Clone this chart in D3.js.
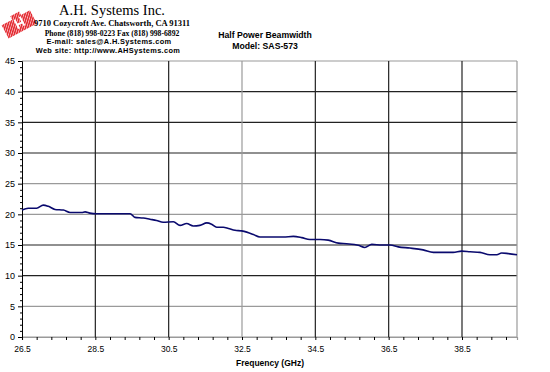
<!DOCTYPE html>
<html>
<head>
<meta charset="utf-8">
<script src="https://cdn.jsdelivr.net/npm/d3@7"></script>
<style>
  body { margin: 0; background: #fff; }
  svg { display: block; font-family: "Liberation Sans", Arial, sans-serif; }
</style>
</head>
<body>
<div id="chart"></div>
<script>
// frequency (GHz) and beamwidth (deg)
const freqs = [26.5, 26.67, 26.9, 27.08, 27.22, 27.4, 27.63, 27.81, 28.13, 28.22, 28.35, 28.54,
  29.45, 29.58, 29.81, 29.99, 30.17, 30.35, 30.63, 30.81, 30.99, 31.17, 31.35, 31.54, 31.67,
  31.81, 31.99, 32.13, 32.31, 32.49, 32.63, 32.81, 32.99, 33.35, 33.63, 33.9, 34.13, 34.35,
  34.63, 34.85, 35.13, 35.35, 35.67, 35.85, 36.04, 36.31, 36.54, 36.76, 37.08, 37.44, 37.72,
  38.26, 38.49, 38.72, 38.99, 39.26, 39.45, 39.58, 39.76, 40.0];
const beamwidth = [20.7, 21.0, 21.0, 21.5, 21.3, 20.8, 20.7, 20.3, 20.3, 20.4, 20.2, 20.1,
  20.1, 19.5, 19.4, 19.2, 19.0, 18.7, 18.8, 18.2, 18.5, 18.1, 18.2, 18.6, 18.4,
  17.9, 17.9, 17.7, 17.4, 17.3, 17.1, 16.7, 16.3, 16.3, 16.3, 16.4, 16.2, 15.9,
  15.9, 15.8, 15.3, 15.2, 14.95, 14.6, 15.1, 15.0, 15.0, 14.7, 14.5, 14.2, 13.8,
  13.8, 14.0, 13.9, 13.8, 13.4, 13.4, 13.7, 13.6, 13.4];

const xTicks = [26.5, 28.5, 30.5, 32.5, 34.5, 36.5, 38.5];
const yTicks = [0, 5, 10, 15, 20, 25, 30, 35, 40, 45];
const headerLines = [
  "A.H. Systems Inc.",
  "9710 Cozycroft Ave. Chatsworth, CA 91311",
  "Phone (818) 998-0223 Fax (818) 998-6892",
  "E-mail:  sales@A.H.Systems.com",
  "Web site:  http://www.AHSystems.com"
];
const titleLines = ["Half Power Beamwidth", "Model: SAS-573"];

const width = 550, height = 372;
const margin = { top: 61, right: 33, bottom: 35, left: 22 };

const svg = d3.select("#chart").append("svg")
  .attr("width", width).attr("height", height);

const x = d3.scaleLinear().domain([26.5, 40]).range([margin.left, width - margin.right]);
const y = d3.scaleLinear().domain([0, 45]).range([height - margin.bottom, margin.top]);

// logo: red striped block
const defs = svg.append("defs");
const pat = defs.append("pattern").attr("id", "stripes")
  .attr("width", 2.2).attr("height", 2.2)
  .attr("patternUnits", "userSpaceOnUse")
  .attr("patternTransform", "rotate(45)");
pat.append("rect").attr("width", 2.2).attr("height", 2.2).attr("fill", "#f7b9bb");
pat.append("rect").attr("width", 1.4).attr("height", 2.2).attr("fill", "#e3262e");

const logo = svg.append("g").attr("transform", "translate(19,24) rotate(-28)");
logo.append("path")
  .attr("d", "M-16,-7 L-4,-7 L-4,-11 L6,-11 L6,-7 L16,-7 L16,8 L-16,8 Z")
  .attr("fill", "url(#stripes)");
logo.append("path")
  .attr("d", "M-3,-6 L-1,-6 L-1,-1 L3,-1 L3,-6 L5,-6 L5,4 L3,4 L3,1 L-1,1 L-1,4 L-3,4 Z")
  .attr("fill", "#fff");

// company header
const serif = "Liberation Serif, Times New Roman, serif";
const header = svg.append("g").attr("text-anchor", "middle");
header.append("text").attr("x", 112).attr("y", 15)
  .attr("font-family", serif).attr("font-size", 14.5).text(headerLines[0]);
header.append("text").attr("x", 112).attr("y", 26)
  .attr("font-family", serif).attr("font-weight", "bold").attr("font-size", 8.5)
  .text(headerLines[1]);
header.append("text").attr("x", 112).attr("y", 35.5)
  .attr("font-family", serif).attr("font-weight", "bold").attr("font-size", 7.7)
  .text(headerLines[2]);
header.append("text").attr("x", 109).attr("y", 44)
  .attr("font-weight", "bold").attr("font-size", 7.4).attr("letter-spacing", 0.35)
  .text(headerLines[3]);
header.append("text").attr("x", 108).attr("y", 53)
  .attr("font-weight", "bold").attr("font-size", 7.4).attr("letter-spacing", 0.35)
  .text(headerLines[4]);

// chart title
svg.append("g").attr("text-anchor", "middle")
  .selectAll("text").data(titleLines).enter().append("text")
  .attr("x", 265).attr("y", (d, i) => 38 + i * 11)
  .attr("font-weight", "bold").attr("font-size", 8.7)
  .text(d => d);

// gridlines (some render lighter in the original)
const lightY = [45, 25, 20, 5, 0];
svg.append("g").selectAll("line").data(yTicks).enter().append("line")
  .attr("x1", x(26.5)).attr("x2", x(40))
  .attr("y1", d => y(d)).attr("y2", d => y(d))
  .attr("stroke", d => lightY.includes(d) ? "#9a9a9a" : "#222")
  .attr("stroke-width", 1.2);

svg.append("g").selectAll("line").data(xTicks.slice(1)).enter().append("line")
  .attr("x1", d => x(d)).attr("x2", d => x(d))
  .attr("y1", y(0)).attr("y2", y(45))
  .attr("stroke", d => d === 32.5 ? "#9a9a9a" : "#222")
  .attr("stroke-width", 1.2);

// right border
svg.append("line")
  .attr("x1", x(40)).attr("x2", x(40)).attr("y1", y(0)).attr("y2", y(45))
  .attr("stroke", "#9a9a9a").attr("stroke-width", 1.2);

// y axis with minor ticks
const yAxis = svg.append("g").attr("transform", `translate(${x(26.5)},0)`);
yAxis.call(d3.axisLeft(y).tickValues(d3.range(0, 46, 1)).tickSize(2).tickFormat(""));
yAxis.call(g => g.selectAll(".tick").filter(d => d % 5 === 0).select("line").attr("x2", -4));
yAxis.selectAll(".domain").attr("stroke", "#000");
svg.append("g").attr("transform", `translate(${x(26.5) - 5},0)`)
  .call(d3.axisLeft(y).tickValues(yTicks).tickSize(0).tickPadding(2))
  .call(g => g.select(".domain").remove())
  .selectAll("text").attr("font-size", 9).attr("fill", "#000");

// x axis: ticks every 0.4 GHz, labels every 2 GHz
const xAxis = svg.append("g").attr("transform", `translate(0,${y(0)})`);
xAxis.call(d3.axisBottom(x).tickValues(d3.range(26.5, 40.01, 0.4)).tickSize(3).tickFormat(""));
xAxis.selectAll(".domain").attr("stroke", "#9a9a9a").attr("stroke-width", 1.2);
svg.append("g").attr("transform", `translate(0,${y(0) + 6})`)
  .call(d3.axisBottom(x).tickValues(xTicks).tickSize(0).tickFormat(d3.format(".1f")))
  .call(g => g.select(".domain").remove())
  .selectAll("text").attr("font-size", 8.5).attr("fill", "#000");

svg.append("text").attr("x", 270).attr("y", 366).attr("text-anchor", "middle")
  .attr("font-weight", "bold").attr("font-size", 8.5).text("Frequency (GHz)");

// data line
const line = d3.line().x((d, i) => x(freqs[i])).y(d => y(d)).curve(d3.curveMonotoneX);
svg.append("path").datum(beamwidth)
  .attr("d", line)
  .attr("fill", "none")
  .attr("stroke", "#0a0a6e")
  .attr("stroke-width", 1.6);
</script>
</body>
</html>
